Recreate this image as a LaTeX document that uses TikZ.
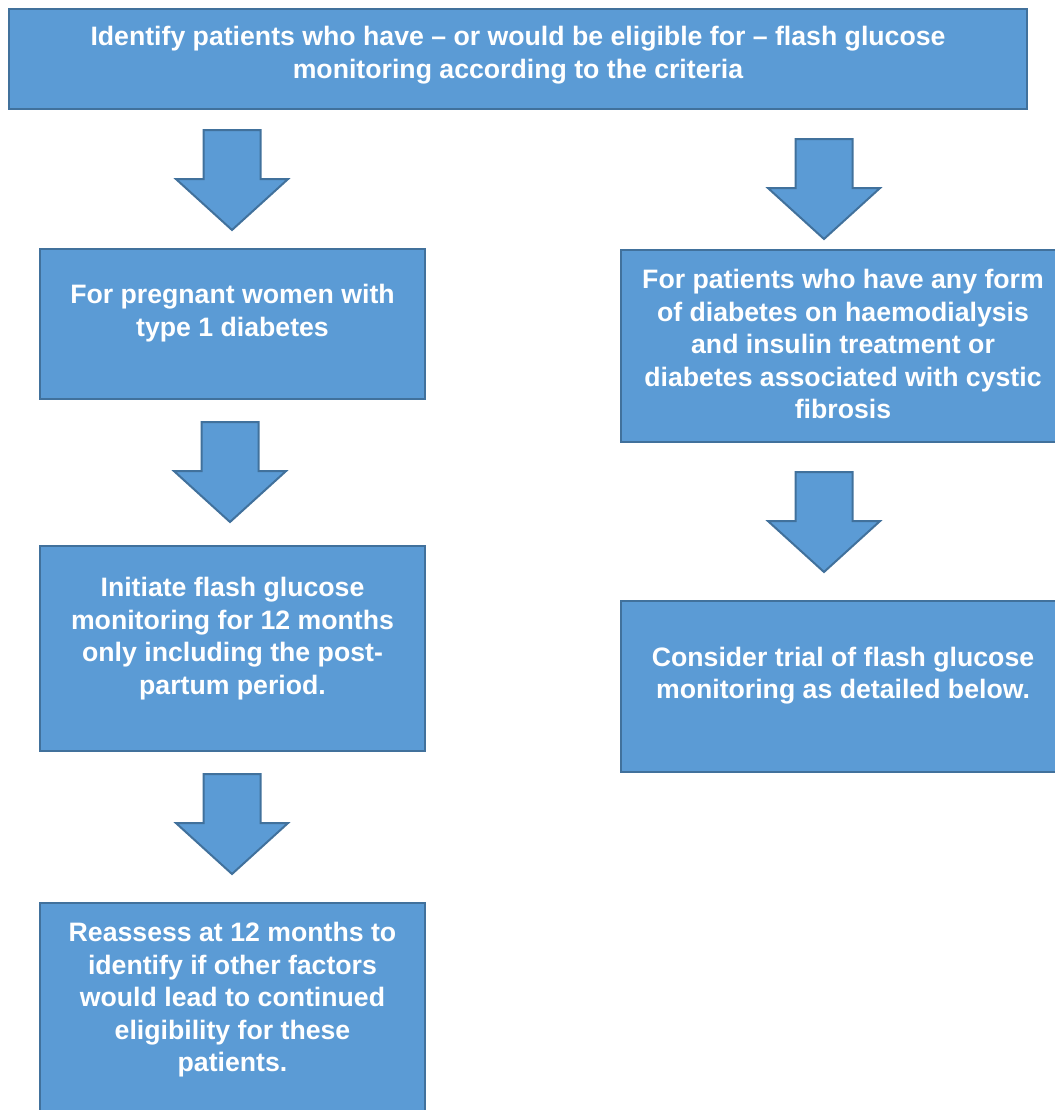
\documentclass[tikz,border=0pt]{standalone}
\usepackage{fontspec}
\setmainfont{Liberation Sans}
\usetikzlibrary{shapes.arrows}
\definecolor{boxfill}{HTML}{5B9BD5}
\definecolor{boxline}{HTML}{41719C}

\begin{document}
\begin{tikzpicture}[
  x=0.75pt,y=-0.75pt,
  box/.style={draw=boxline,fill=boxfill,line width=1.5pt,inner sep=0pt},
  txt/.style={text=white,align=center,inner sep=0pt,
    font=\fontsize{20}{24.4}\selectfont\bfseries},
  downarrow/.style={single arrow,draw=boxline,fill=boxfill,line width=1.5pt,
    rotate=-90,anchor=tail,inner xsep=0pt,inner ysep=20.625pt,
    minimum height=75pt,minimum width=82.5pt,
    single arrow head extend=20.625pt,single arrow tip angle=95.45}
]
\useasboundingbox (0,0) rectangle (1055,1110);
\clip (0,0) rectangle (1055,1110);
% top box
\node[box,minimum width=763.5pt,minimum height=75pt] (ident) at (518,59) {};
\node[txt] (identtxt) at ([yshift=3pt]ident.center)
  {Identify patients who have -- or would be eligible for -- flash glucose\\
   monitoring according to the criteria};
% left column
\node[downarrow] (la1) at (232,129) {};
\node[box,minimum width=288.75pt,minimum height=112.5pt] (preg) at (232.5,324) {};
\node[txt] (pregtxt) at ([yshift=8.25pt]preg.center)
  {For pregnant women with\\type 1 diabetes};
\node[downarrow] (la2) at (230,421) {};
\node[box,minimum width=288.75pt,minimum height=153.75pt] (init) at (232.5,648.5) {};
\node[txt] (inittxt) at ([yshift=7.5pt]init.center)
  {Initiate flash glucose\\monitoring for 12 months\\only including the post-\\partum period.};
\node[downarrow] (la3) at (232,773) {};
\node[box,minimum width=288.75pt,minimum height=162.75pt] (reass) at (232.5,1011.5) {};
\node[txt] (reasstxt) at (232.5,1000)
  {Reassess at 12 months to\\identify if other factors\\would lead to continued\\eligibility for these\\patients.};
% right column
\node[downarrow] (ra1) at (824,138) {};
\node[box,minimum width=333pt,minimum height=144pt] (dial) at (843,346) {};
\node[txt] (dialtxt) at ([yshift=1.5pt]dial.center)
  {For patients who have any form\\of diabetes on haemodialysis\\and insulin treatment or\\diabetes associated with cystic\\fibrosis};
\node[downarrow] (ra2) at (824,471) {};
\node[box,minimum width=333pt,minimum height=128.25pt] (trial) at (843,686.5) {};
\node[txt] (trialtxt) at ([yshift=8.25pt]trial.center)
  {Consider trial of flash glucose\\monitoring as detailed below.};
\end{tikzpicture}
\end{document}
